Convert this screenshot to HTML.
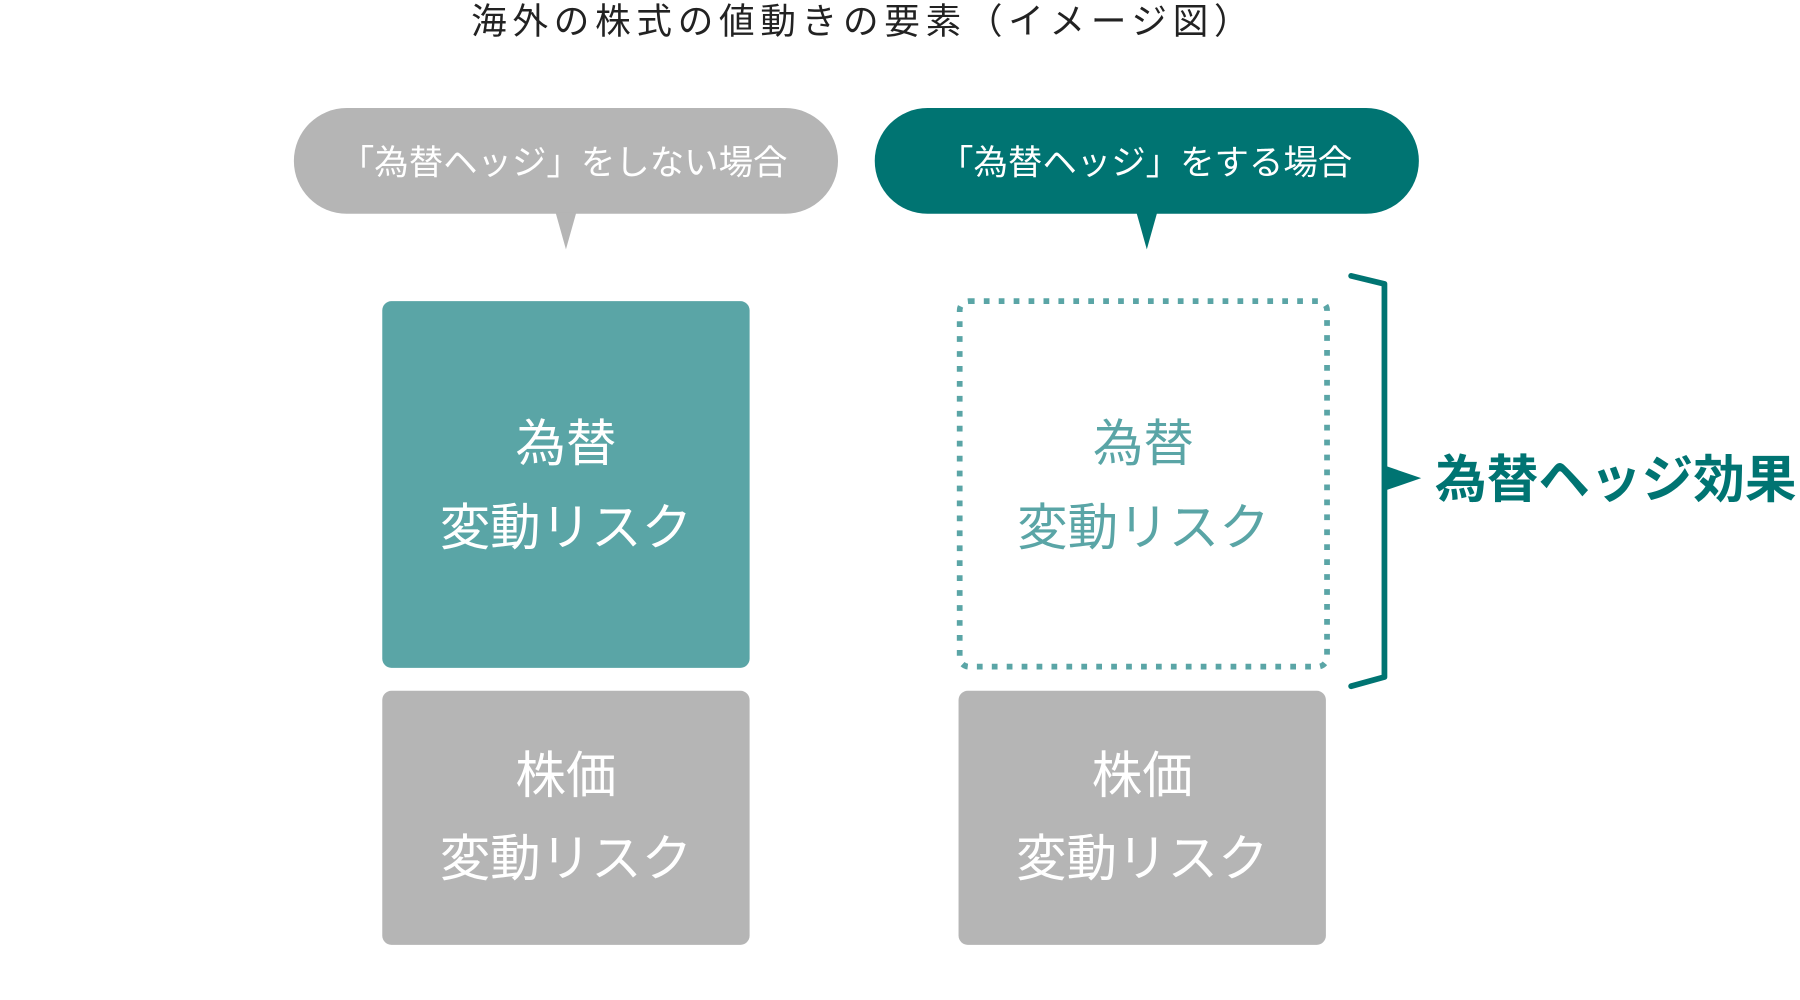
<!DOCTYPE html>
<html><head><meta charset="utf-8"><style>
html,body{margin:0;padding:0;background:#fff;width:1800px;height:1000px;overflow:hidden}
svg{display:block}
text{font-family:"Liberation Sans","Noto Sans CJK JP",sans-serif}
</style></head><body>
<svg width="1800" height="1000" viewBox="0 0 1568 870" preserveAspectRatio="none">
<text x="752" y="29" font-size="31" letter-spacing="5" fill="#222" text-anchor="middle">海外の株式の値動きの要素（イメージ図）</text>
<rect x="256" y="94" width="474" height="92" rx="46" fill="#b5b5b5"/>
<polygon points="484,185 502,185 493,217" fill="#b5b5b5"/>
<text x="491" y="152" font-size="30" fill="#fff" text-anchor="middle">「為替ヘッジ」をしない場合</text>
<rect x="762" y="94" width="474" height="92" rx="46" fill="#007472"/>
<polygon points="990,185 1008,185 999,217" fill="#007472"/>
<text x="998" y="152" font-size="30" fill="#fff" text-anchor="middle">「為替ヘッジ」をする場合</text>
<rect x="333" y="262" width="320" height="319" rx="8" fill="#5aa5a6"/>
<text x="493" y="401" font-size="44" fill="#fff" text-anchor="middle">為替</text>
<text x="493" y="474" font-size="44" fill="#fff" text-anchor="middle">変動リスク</text>
<rect x="333" y="601" width="320" height="221" rx="8" fill="#b5b5b5"/>
<text x="493" y="690" font-size="44" fill="#fff" text-anchor="middle">株価</text>
<text x="493" y="762" font-size="44" fill="#fff" text-anchor="middle">変動リスク</text>
<rect x="836" y="262" width="320" height="318" rx="8" fill="none" stroke="#5aa5a6" stroke-width="5" stroke-dasharray="5,8"/>
<text x="996" y="401" font-size="44" fill="#5aa5a6" text-anchor="middle">為替</text>
<text x="996" y="474" font-size="44" fill="#5aa5a6" text-anchor="middle">変動リスク</text>
<rect x="835" y="601" width="320" height="221" rx="8" fill="#b5b5b5"/>
<text x="995" y="690" font-size="44" fill="#fff" text-anchor="middle">株価</text>
<text x="995" y="762" font-size="44" fill="#fff" text-anchor="middle">変動リスク</text>
<path d="M1177,240 L1206,247 L1206,589 L1177,597" fill="none" stroke="#007472" stroke-width="5" stroke-linecap="round" stroke-linejoin="round"/>
<polygon points="1206,405 1238,416 1206,427" fill="#007472"/>
<text x="1250" y="433" font-size="45" font-weight="bold" fill="#007472">為替ヘッジ効果</text>
</svg>
</body></html>
